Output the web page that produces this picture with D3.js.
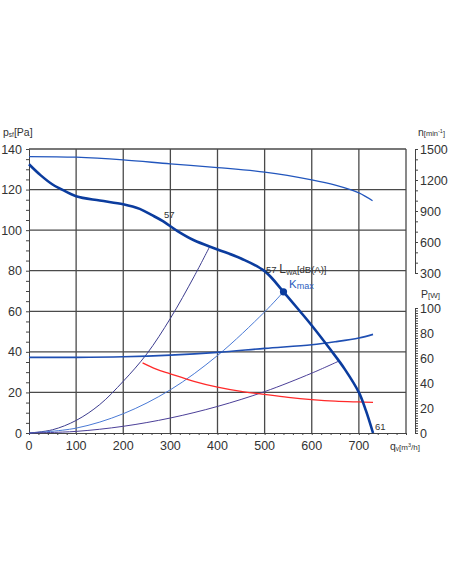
<!DOCTYPE html>
<html>
<head>
<meta charset="utf-8">
<script src="https://cdn.jsdelivr.net/npm/d3@7"></script>
<style>
  body { margin: 0; background: #fff; }
  svg text { font-family: "Liberation Sans", Arial, sans-serif; fill: #333; }
</style>
</head>
<body>
<script>
// values
var pressureCurve = [[0,132.5],[25,127],[50,122.5],[66,120.5],[100,116.7],[150,114.6],[200,112.8],[235,110.5],[260,107.5],[285,104.3],[316,99.4],[350,95],[400,90.5],[450,86],[500,79.8],[540,69.6],[575,60],[600,53],[640,41],[670,31.5],[700,20],[715,11],[730,0]];
var rpmCurve = [[0,1427],[100,1421],[200,1395],[300,1356],[400,1320],[500,1276],[600,1201],[650,1150],[700,1075],[729,999]];
var powerCurve = [[0,60.5],[100,60.5],[200,61],[300,62.3],[400,64.5],[500,67.7],[600,70.6],[650,73],[700,76],[730,78.9]];
var redCurve = [[241,34.6],[270,31.5],[300,29.2],[350,25.5],[400,22.6],[450,20.5],[500,19],[550,17.6],[600,16.5],[650,15.7],[700,15.3],[730,15.1]];
var sysCurveA = [[0,0],[50,1.6],[100,6.2],[150,14],[200,25.5],[250,39],[300,56.5],[350,77],[383,91.7]];
var sysCurveB = [[0,0],[100,2.4],[200,9.5],[300,21.3],[400,38.2],[500,59.7],[540,69.6]];
var sysCurveC = [[0,0],[100,0.8],[200,3.3],[300,7.4],[400,13.1],[500,20.4],[600,29.5],[657,35.4]];
var kmax = [540, 69.6];

var xTicks = [0,100,200,300,400,500,600,700];
var yTicks = [0,20,40,60,80,100,120,140];
var nTicks = [300,600,900,1200,1500];
var pTicks = [0,20,40,60,80,100];

var W = 452, H = 584;
var svg = d3.select("body").append("svg")
    .attr("width", W)
    .attr("height", H);

var x = d3.scaleLinear().domain([0,800]).range([29,406]);
var y = d3.scaleLinear().domain([0,140]).range([433,149]);
var yN = d3.scaleLinear().domain([300,1500]).range([273,149]);
var yP = d3.scaleLinear().domain([0,100]).range([433,308]);

// grid
var grid = svg.append("g").attr("class", "grid");
grid.selectAll("line.v")
    .data(xTicks.slice(1))
    .enter().append("line")
    .attr("x1", function(d) {return x(d);})
    .attr("x2", function(d) {return x(d);})
    .attr("y1", y(0)).attr("y2", y(140))
    .attr("stroke", "#4a4a4a").attr("stroke-width", 1.3);
grid.selectAll("line.h")
    .data(yTicks.slice(1))
    .enter().append("line")
    .attr("x1", x(0)).attr("x2", x(800))
    .attr("y1", function(d) {return y(d);})
    .attr("y2", function(d) {return y(d);})
    .attr("stroke", "#4a4a4a").attr("stroke-width", 1.3);
svg.append("line")
    .attr("x1", x(800)).attr("x2", x(800))
    .attr("y1", y(0)).attr("y2", y(140))
    .attr("stroke", "#4a4a4a").attr("stroke-width", 1.3);

// left axis
var yAxis = d3.axisLeft(y).tickValues(d3.range(0,141,5)).tickSize(3).tickFormat("");
svg.append("g").attr("transform", "translate(" + x(0) + ",0)").call(yAxis);
svg.append("g").selectAll("text")
    .data(yTicks).enter().append("text")
    .attr("x", 22).attr("y", function(d) {return y(d) + 4.5;})
    .attr("text-anchor", "end").attr("font-size", 12.5)
    .text(function(d) {return d;});

// bottom axis
var xAxis = d3.axisBottom(x).tickValues(d3.range(0,801,20)).tickSize(2).tickFormat("");
svg.append("g").attr("transform", "translate(0," + y(0) + ")").call(xAxis);
svg.append("g").selectAll("text")
    .data(xTicks).enter().append("text")
    .attr("x", function(d) {return x(d);}).attr("y", 450)
    .attr("text-anchor", "middle").attr("font-size", 12.5)
    .text(function(d) {return d;});

// right axes
var nAxis = d3.axisRight(yN).tickValues(d3.range(300,1501,100)).tickSize(3).tickFormat("");
svg.append("g").attr("transform", "translate(415,0)").call(nAxis);
svg.append("g").selectAll("text")
    .data(nTicks).enter().append("text")
    .attr("x", 420).attr("y", function(d) {return yN(d) + 4.5;})
    .attr("font-size", 12.5)
    .text(function(d) {return d;});
var pAxis = d3.axisRight(yP).tickValues(d3.range(0,101,2)).tickSize(3).tickFormat("");
svg.append("g").attr("transform", "translate(415,0)").call(pAxis);
svg.append("g").selectAll("text")
    .data(pTicks).enter().append("text")
    .attr("x", 420).attr("y", function(d) {return yP(d) + 4.5;})
    .attr("font-size", 12.5)
    .text(function(d) {return d;});
svg.selectAll(".domain").attr("stroke", "#444");
svg.selectAll(".tick line").attr("stroke", "#444");

// curves
function drawCurve(data, ys, color, width) {
    var line = d3.line()
        .x(function(d) {return x(d[0]);})
        .y(function(d) {return ys(d[1]);})
        .curve(d3.curveCatmullRom.alpha(0.5));
    svg.append("path").datum(data)
        .attr("d", line)
        .attr("fill", "none")
        .attr("stroke", color)
        .attr("stroke-width", width);
}
drawCurve(sysCurveA, y, "#3d3d8f", 1);
drawCurve(sysCurveB, y, "#4a7ad6", 1);
drawCurve(sysCurveC, y, "#4b3f98", 1);
drawCurve(redCurve, y, "#ff2a2a", 1.3);
drawCurve(rpmCurve, yN, "#2256bd", 1.3);
drawCurve(powerCurve, yP, "#1f4fb3", 1.6);
drawCurve(pressureCurve, y, "#0b3c9e", 2.6);

svg.append("circle")
    .attr("cx", x(kmax[0])).attr("cy", y(kmax[1]))
    .attr("r", 3.6).attr("fill", "#0b3c9e");

// labels
svg.append("text").attr("x", 164).attr("y", 218).attr("font-size", 9.5).text("57");
svg.append("text").attr("x", 375).attr("y", 430).attr("font-size", 9.5).text("61");
var lwa = svg.append("text").attr("x", 266).attr("y", 273).attr("font-size", 9.5);
lwa.append("tspan").text("57 ");
lwa.append("tspan").attr("font-size", 12).text("L");
lwa.append("tspan").attr("font-size", 7).attr("dy", 2).text("WA");
lwa.append("tspan").attr("dy", -2).attr("font-size", 9.5).text("[dB(A)]");
var km = svg.append("text").attr("x", 289).attr("y", 288).attr("font-size", 11.5).style("fill", "#2a5cc0");
km.append("tspan").text("K");
km.append("tspan").attr("font-size", 9).attr("dy", 1).text("max");

var pl = svg.append("text").attr("x", 3).attr("y", 136).attr("font-size", 10.5);
pl.append("tspan").text("p");
pl.append("tspan").attr("font-size", 6.5).attr("dy", 1).text("sf");
pl.append("tspan").attr("dy", -1).text("[Pa]");

var nl = svg.append("text").attr("x", 418).attr("y", 136).attr("font-size", 10.5);
nl.append("tspan").text("n");
nl.append("tspan").attr("font-size", 7.5).text("[min");
nl.append("tspan").attr("font-size", 5.5).attr("dy", -3).text("-1");
nl.append("tspan").attr("font-size", 7.5).attr("dy", 3).text("]");

var pw = svg.append("text").attr("x", 421).attr("y", 298).attr("font-size", 10.5);
pw.append("tspan").text("P");
pw.append("tspan").attr("font-size", 8).text("[W]");

var ql = svg.append("text").attr("x", 390).attr("y", 450).attr("font-size", 10.5);
ql.append("tspan").text("q");
ql.append("tspan").attr("font-size", 6.5).attr("dy", 1).text("v");
ql.append("tspan").attr("font-size", 8).attr("dy", -1).text("[m");
ql.append("tspan").attr("font-size", 5.5).attr("dy", -3).text("3");
ql.append("tspan").attr("font-size", 8).attr("dy", 3).text("/h]");
</script>
</body>
</html>
